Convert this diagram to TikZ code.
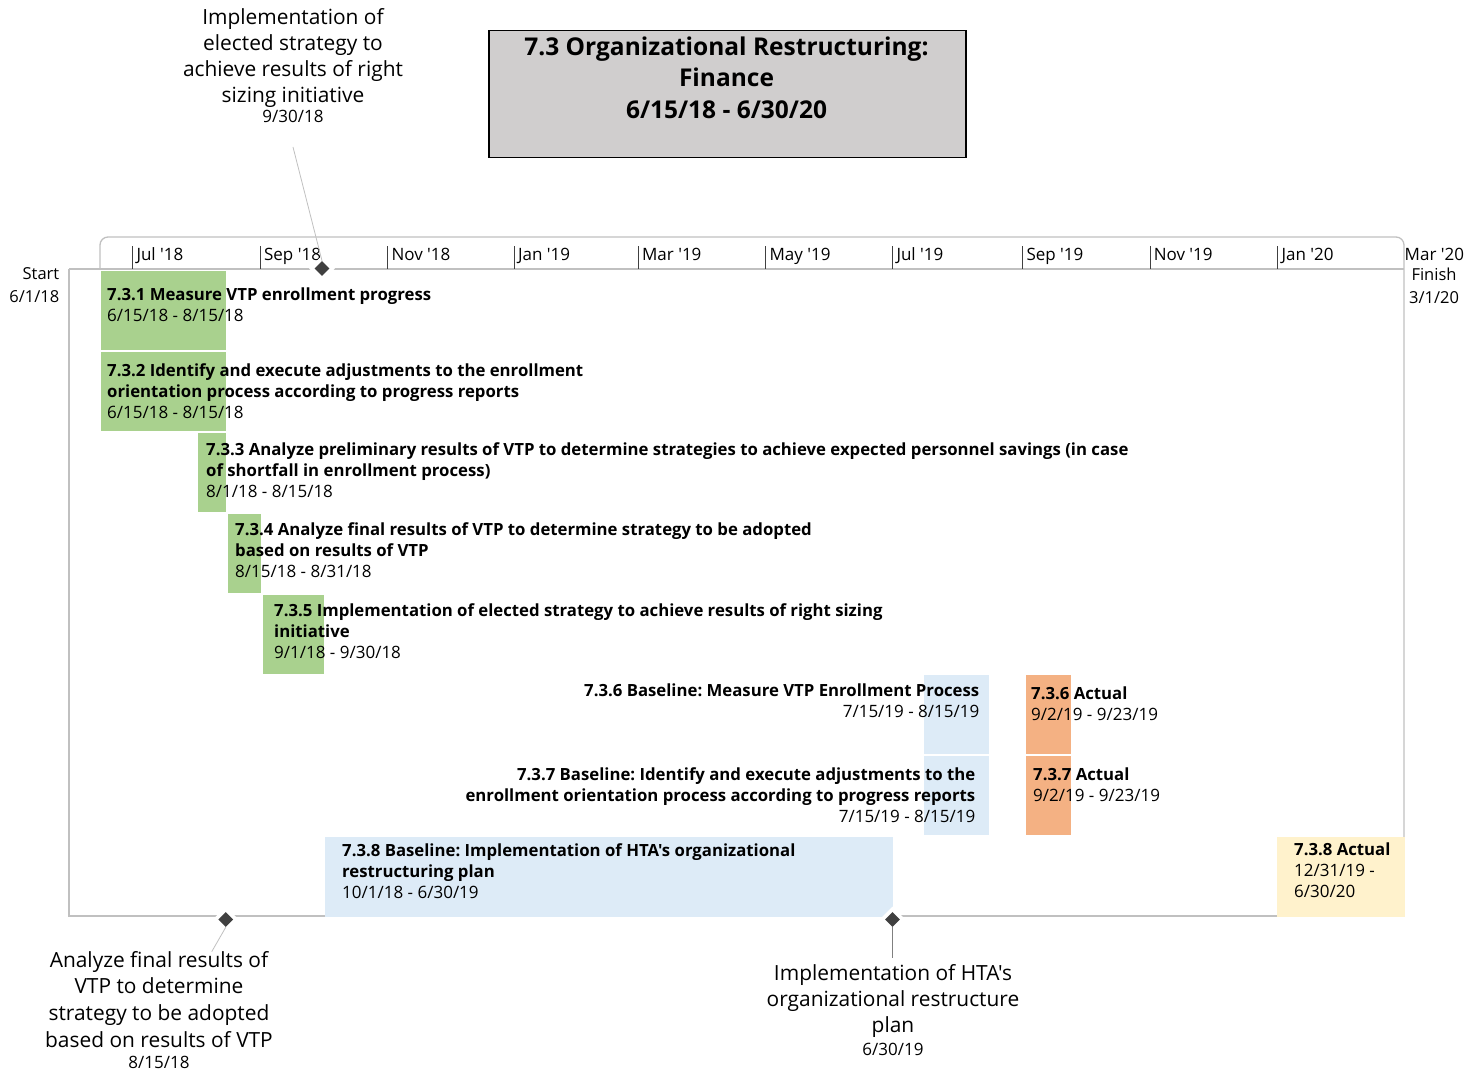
\documentclass[tikz,border=0pt]{standalone}
\usepackage{fontspec}
\setmainfont{Open Sans}[Ligatures=TeXOff]
\usetikzlibrary{shapes.geometric}
\definecolor{grnbar}{HTML}{A9D18E}
\definecolor{blubar}{HTML}{DDEBF7}
\definecolor{orgbar}{HTML}{F4B183}
\definecolor{yelbar}{HTML}{FFF2CC}
\definecolor{tfill}{HTML}{D0CECE}
\definecolor{framec}{HTML}{C0C0C0}
\definecolor{mk}{HTML}{404040}
\frenchspacing
\begin{document}
\frenchspacing
\begin{tikzpicture}[x=1pt,y=-1pt,
  tasktxt/.style={anchor=north west, inner sep=0pt, align=left, font=\fontsize{17}{21}\selectfont\frenchspacing},
  tasktxtr/.style={anchor=north east, inner sep=0pt, align=right, font=\fontsize{17}{21}\selectfont\frenchspacing},
  callout/.style={anchor=north, inner sep=0pt, align=center, font=\fontsize{20.9}{26}\selectfont},
  cdate/.style={anchor=base, inner sep=0pt, font=\fontsize{17}{20}\selectfont},
  month/.style={anchor=base west, inner sep=0pt, font=\fontsize{17}{20}\selectfont},
  endlbl/.style={inner sep=0pt, font=\fontsize{16.5}{23.4}\selectfont},
  halo/.style={diamond, fill=white, inner sep=0pt, minimum size=26pt},
  mstone/.style={diamond, fill=mk, inner sep=0pt, minimum size=15pt},
  frameline/.style={draw=framec, line width=1.3pt},
  tickline/.style={draw=mk, line width=0.9pt},
  callline/.style={draw=framec, line width=0.8pt},
  callline2/.style={draw=gray, line width=1pt}
]
\newcommand\bb[1]{{\fontsize{16.75}{21}\selectfont\bfseries #1}}
\useasboundingbox (0,0) rectangle (1480,1078);
% title
\node[draw=black, line width=1.5pt, fill=tfill, minimum width=477pt, minimum height=127pt, inner sep=0pt, anchor=north west] (titlebox) at (488,30) {};
\node[anchor=north, inner sep=0pt, align=center, font=\fontsize{24.5}{31.7}\selectfont\bfseries] (title) at (726.5,32.8) {\strut 7.3 Organizational Restructuring:\\Finance\\6/15/18 - 6/30/20};
% frame
\draw[frameline, rounded corners=8pt] (100,269) -- (100,237) -- (1404,237) -- (1404,916);
\draw[frameline] (69,269) -- (1404,269);
\draw[frameline] (69,269) -- (69,916) -- (1404,916);
% ticks and months
\foreach \x/\m [count=\i] in {132.7/Jul '18, 260.3/Sep '18, 387.7/Nov '18, 514.3/Jan '19, 638.3/Mar '19, 765.7/May '19, 892.7/Jul '19, 1022.7/Sep '19, 1150/Nov '19, 1277.7/Jan '20}{
  \draw[tickline] (\x,246) -- (\x,269);
  \node[month] (mon\i) at (\x+3.6,260.7) {\m};
}
\node[month] (mon11) at (1404.5,260.7) {Mar '20};
\node[endlbl, anchor=north east, align=right] (start) at (59.5,262.9) {\strut Start\\6/1/18};
\node[endlbl, anchor=north, align=center] (finish) at (1434,263.6) {\strut Finish\\3/1/20};
% bars
\fill[grnbar] (101,271) rectangle (226,349.5);
\fill[grnbar] (101,351.5) rectangle (226,430.5);
\fill[grnbar] (198,432.5) rectangle (226,511.5);
\fill[grnbar] (228,513.5) rectangle (261,592.5);
\fill[grnbar] (263,594.5) rectangle (323.5,673.5);
\fill[blubar] (924,675) rectangle (988.5,754.3);
\fill[orgbar] (1026,675) rectangle (1071,754.3);
\fill[blubar] (924,756) rectangle (988.5,835);
\fill[orgbar] (1026,756) rectangle (1071,835);
\fill[blubar] (325,836.8) rectangle (893,916.5);
\fill[yelbar] (1277.3,837.3) rectangle (1405,916.7);
% milestones
\node[halo] (h1) at (322,268.5) {};
\node[halo] (h2) at (225.8,919.5) {};
\node[halo] (h3) at (892.5,919.5) {};
\node[callout] (c1) at (293,5.8) {\strut Implementation of\\elected strategy to\\achieve results of right\\sizing initiative};
\node[cdate] (c1d) at (293,123) {9/30/18};
\node[callout, font=\fontsize{20.9}{26.6}\selectfont] (c2) at (159,948.4) {\strut Analyze final results of\\VTP to determine\\strategy to be adopted\\based on results of VTP};
\node[cdate] (c2d) at (159,1068) {8/15/18};
\node[callout, font=\fontsize{20.9}{26}\selectfont] (c3) at (893,961.8) {\strut Implementation of HTA's\\organizational restructure\\plan};
\node[cdate] (c3d) at (893,1055) {6/30/19};
\coordinate (c1e) at (293,147);
\coordinate (c2e) at (211.7,951.7);
\coordinate (c3e) at (892.5,958);
\node[mstone] (m1) at (322,268.5) {};
\node[mstone] (m2) at (225.8,919.5) {};
\node[mstone] (m3) at (892.5,919.5) {};
\draw[callline] (c1e) -- (m1.north);
\draw[callline] (m2.south) -- (c2e);
\draw[callline2] (m3.south) -- (c3e);
% task texts
\node[tasktxt] (t1) at (107,285.8) {\strut\bb{7.3.1 Measure VTP enrollment progress}\\6/15/18 - 8/15/18};
\node[tasktxt] (t2) at (107,361.3) {\strut\bb{7.3.2 Identify and execute adjustments to the enrollment}\\\bb{orientation process according to progress reports}\\6/15/18 - 8/15/18};
\node[tasktxt] (t3) at (206,440.8) {\strut\bb{7.3.3 Analyze preliminary results of VTP to determine strategies to achieve expected personnel savings (in case}\\\bb{of shortfall in enrollment process)}\\8/1/18 - 8/15/18};
\node[tasktxt] (t4) at (235,520.8) {\strut\bb{7.3.4 Analyze final results of VTP to determine strategy to be adopted}\\\bb{based on results of VTP}\\8/15/18 - 8/31/18};
\node[tasktxt] (t5) at (274,601.3) {\strut\bb{7.3.5 Implementation of elected strategy to achieve results of right sizing}\\\bb{initiative}\\9/1/18 - 9/30/18};
\node[tasktxtr] (t6b) at (979.5,682) {\strut\bb{7.3.6 Baseline: Measure VTP Enrollment Process}\\7/15/19 - 8/15/19};
\node[tasktxt] (t6a) at (1031,684.6) {\strut\bb{7.3.6 Actual}\\9/2/19 - 9/23/19};
\node[tasktxtr] (t7b) at (975.5,766) {\strut\bb{7.3.7 Baseline: Identify and execute adjustments to the}\\\bb{enrollment orientation process according to progress reports}\\7/15/19 - 8/15/19};
\node[tasktxt] (t7a) at (1033,766) {\strut\bb{7.3.7 Actual}\\9/2/19 - 9/23/19};
\node[tasktxt] (t8b) at (342,841.3) {\strut\bb{7.3.8 Baseline: Implementation of HTA's organizational}\\\bb{restructuring plan}\\10/1/18 - 6/30/19};
\node[tasktxt] (t8a) at (1294,840.3) {\strut\bb{7.3.8 Actual}\\12/31/19 -\\6/30/20};
\end{tikzpicture}
\end{document}
